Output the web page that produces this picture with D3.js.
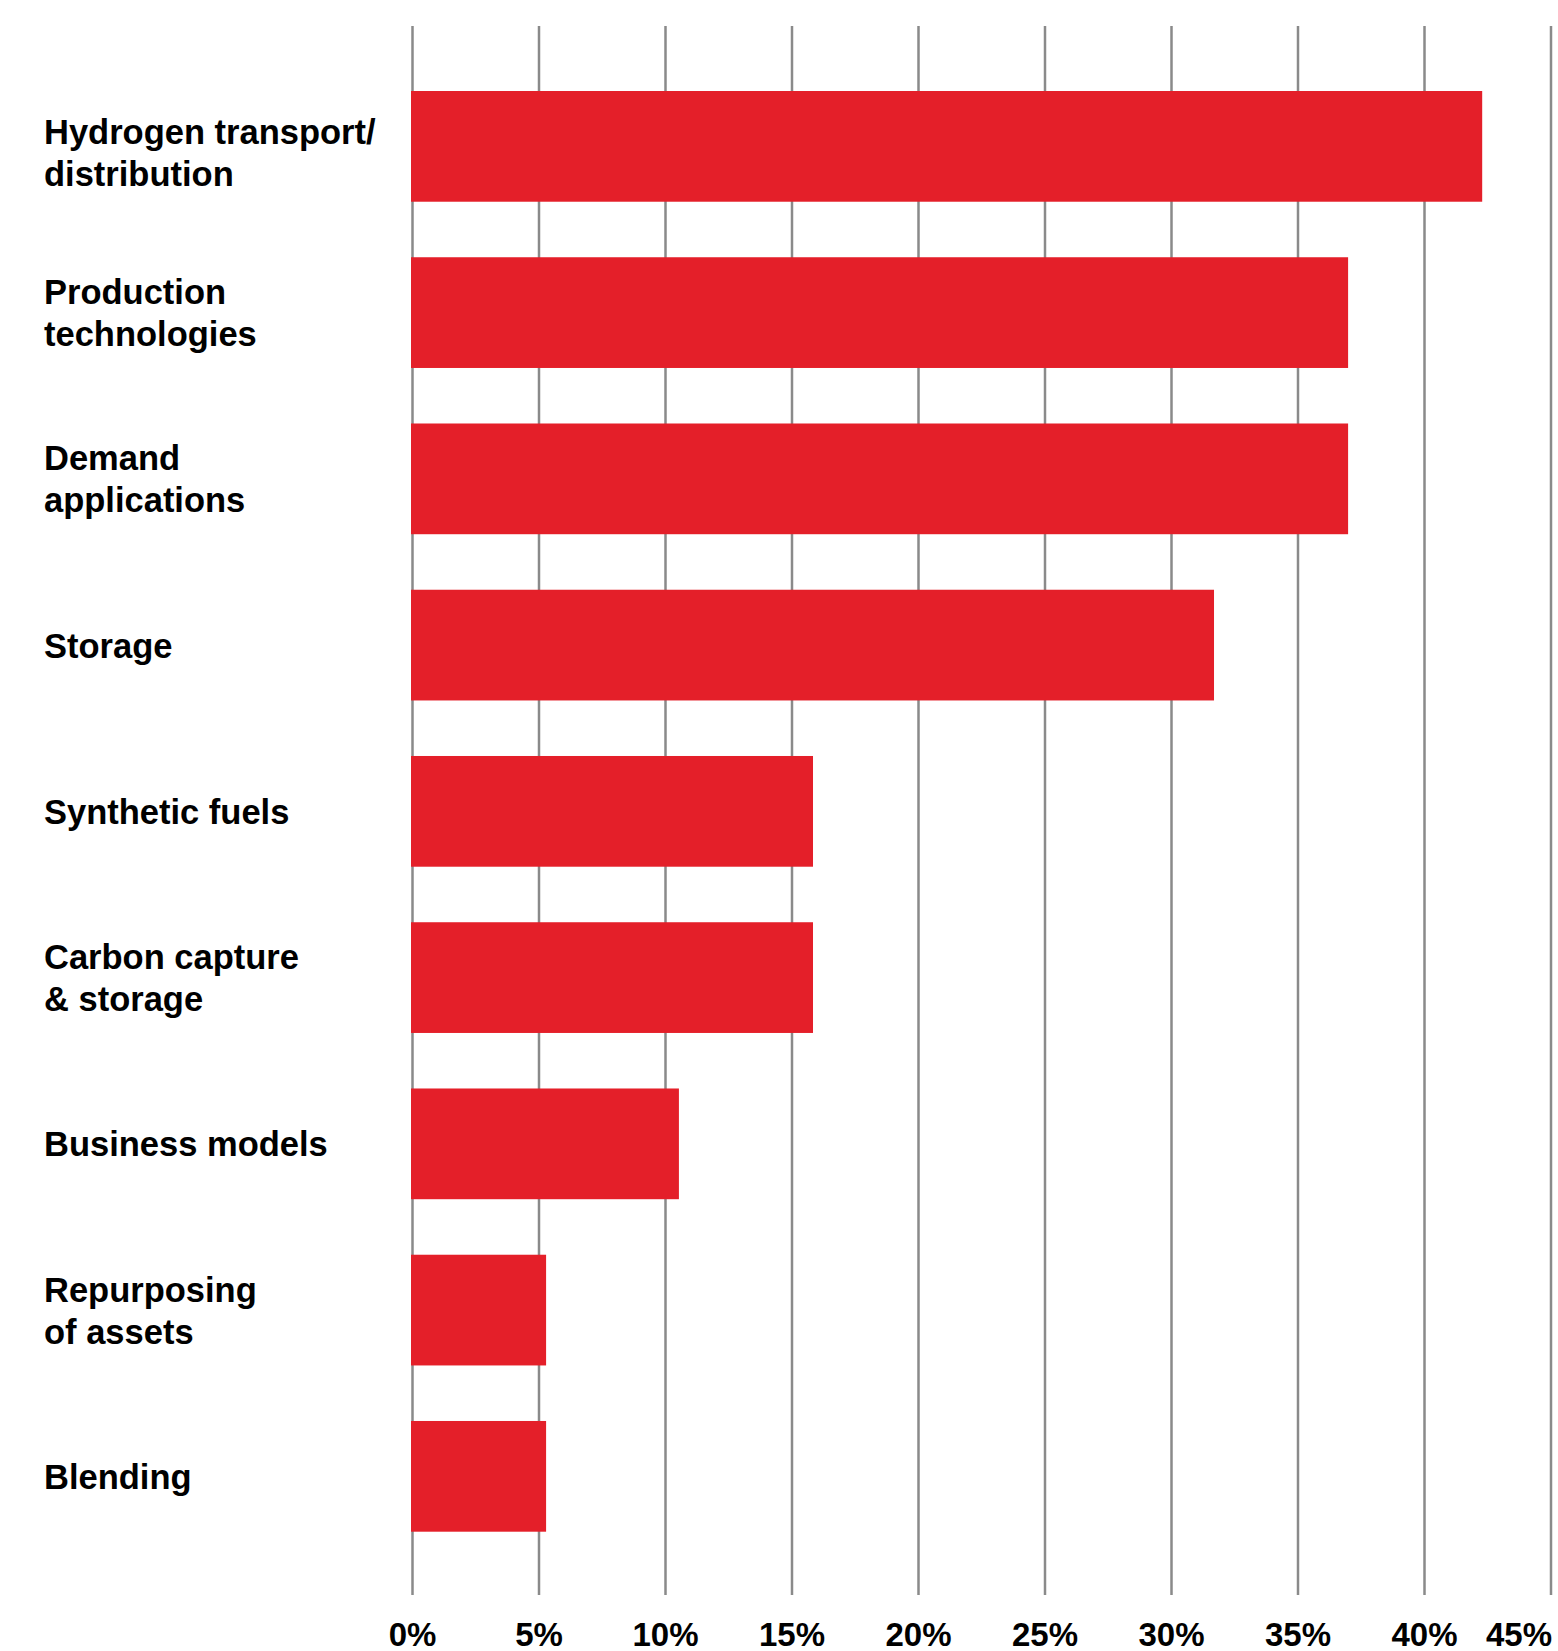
<!DOCTYPE html>
<html>
<head>
<meta charset="utf-8">
<script src="https://cdn.jsdelivr.net/npm/d3@7"></script>
<style>
  html, body { margin: 0; padding: 0; background: #fff; }
  svg { display: block; }
  text { font-family: "Liberation Sans", Arial, sans-serif; font-weight: bold; fill: #000; }
</style>
</head>
<body>
<svg id="chart" width="1558" height="1651"></svg>
<script>
const categories = [
  ["Hydrogen transport/", "distribution"],
  ["Production", "technologies"],
  ["Demand", "applications"],
  ["Storage"],
  ["Synthetic fuels"],
  ["Carbon capture", "& storage"],
  ["Business models"],
  ["Repurposing", "of assets"],
  ["Blending"]
];
const values = [42.3, 37.0, 37.0, 31.7, 15.85, 15.85, 10.55, 5.3, 5.3];
const tickValues = [0, 5, 10, 15, 20, 25, 30, 35, 40, 45];

const svg = d3.select("#chart");
const gridTop = 26, gridBottom = 1595;

const x = d3.scaleLinear().domain([0, 45]).range([412, 1550.5]);
const y = d3.scaleBand()
  .domain(d3.range(categories.length))
  .range([91, 1531.7])
  .paddingInner(0.334)
  .paddingOuter(0);

// Gridlines + tick labels
const axis = d3.axisBottom(x)
  .tickValues(tickValues)
  .tickSize(-(gridBottom - gridTop))
  .tickPadding(28)
  .tickFormat(d => d + "%");

const gAxis = svg.append("g")
  .attr("transform", `translate(0,${gridBottom})`)
  .call(axis);
gAxis.select(".domain").remove();
gAxis.selectAll(".tick line").attr("stroke", "#8a8a8a").attr("stroke-width", 2.5);
gAxis.selectAll(".tick text")
  .attr("font-size", 33)
  .attr("font-family", "'Liberation Sans', Arial, sans-serif")
  .attr("font-weight", "bold")
  .attr("fill", "#000")
  .each(function(d, i, nodes) {
    if (i === nodes.length - 1) d3.select(this).attr("text-anchor", "end").attr("x", 1);
  });

// Bars
svg.append("g").selectAll("rect")
  .data(values)
  .join("rect")
  .attr("x", x(0) - 1)
  .attr("y", (d, i) => y(i))
  .attr("width", d => x(d) - x(0) + 1)
  .attr("height", y.bandwidth())
  .attr("fill", "#e41f29");

// Category labels
const lineH = 42;
const labels = svg.append("g").selectAll("text")
  .data(categories)
  .join("text")
  .attr("x", 44)
  .attr("font-size", 34.5)
  .attr("y", (d, i) => y(i) + y.bandwidth() / 2 + 12.5 - (d.length - 1) * lineH / 2 + (i === 0 ? 6 : 0));
labels.selectAll("tspan")
  .data(d => d)
  .join("tspan")
  .attr("x", 44)
  .attr("dy", (d, j) => j === 0 ? 0 : lineH)
  .text(d => d);
</script>
</body>
</html>
